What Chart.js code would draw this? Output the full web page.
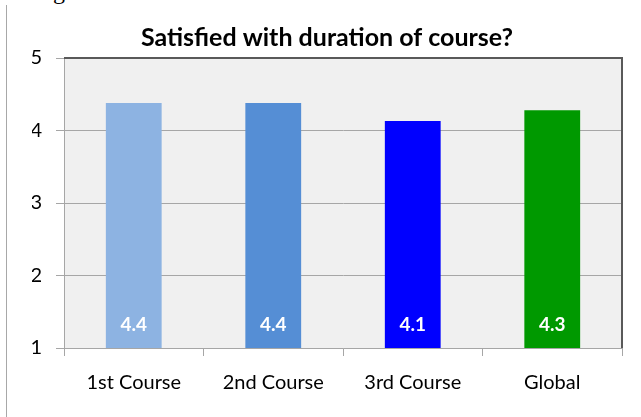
<!DOCTYPE html>
<html>
<head>
<meta charset="utf-8">
<script src="https://cdn.jsdelivr.net/npm/chart.js@4/dist/chart.umd.min.js"></script>
<style>
    body { margin: 0; background: #fff; }
    .wrap { position: relative; width: 641px; height: 417px; overflow: hidden; }
    .rule { position: absolute; left: 6px; top: 5px; bottom: 0; border-left: 1px solid #a8a8a8; }
    .cap { position: absolute; left: 33px; top: -22px; font: 24px "Liberation Serif", serif; color: #000; }
    canvas { position: absolute; left: 0; top: 0; }
</style>
</head>
<body>
<div class="wrap">
    <div class="rule"></div>
    <div class="cap">Figure</div>
    <canvas id="durationChart" width="641" height="417"></canvas>
</div>
<script>
const categories = ['1st Course', '2nd Course', '3rd Course', 'Global'];
const satisfaction = [4.38, 4.38, 4.13, 4.28];
const barColors = ['#8db3e2', '#558ed5', '#0000ff', '#009900'];
const yTicks = [1, 2, 3, 4, 5];

const font = '"Lato", "Open Sans", sans-serif';

// plot area background + dark top/right frame, then the value labels
const plotFrame = {
    id: 'plotFrame',
    beforeDraw(chart) {
        const a = chart.chartArea;
        const ctx = chart.ctx;
        ctx.save();
        ctx.fillStyle = '#f0f0f0';
        ctx.fillRect(a.left, a.top, a.right - a.left, a.bottom - a.top);
        ctx.restore();
    },
    afterDraw(chart) {
        const a = chart.chartArea;
        const ctx = chart.ctx;
        ctx.save();
        ctx.strokeStyle = '#595959';
        ctx.lineWidth = 2;
        ctx.beginPath();
        ctx.moveTo(a.left, a.top);
        ctx.lineTo(a.right, a.top);
        ctx.lineTo(a.right, a.bottom);
        ctx.stroke();

        // white value labels near the foot of each bar
        const meta = chart.getDatasetMeta(0);
        const baseY = chart.scales.y.getPixelForValue(yTicks[0]);
        ctx.fillStyle = '#ffffff';
        ctx.font = 'bold 19px ' + font;
        ctx.textAlign = 'center';
        ctx.textBaseline = 'middle';
        meta.data.forEach(function (bar, i) {
            ctx.fillText(satisfaction[i].toFixed(1), bar.x, baseY - 23);
        });
        ctx.restore();
    }
};

new Chart(document.getElementById('durationChart'), {
    type: 'bar',
    data: {
        labels: categories,
        datasets: [{
            data: satisfaction,
            backgroundColor: barColors,
            barPercentage: 0.4,
            categoryPercentage: 1
        }]
    },
    options: {
        responsive: false,
        animation: false,
        layout: { padding: { left: 32, right: 19, top: 0, bottom: 0 } },
        plugins: {
            legend: { display: false },
            tooltip: { enabled: false },
            title: {
                display: true,
                text: 'Satisfied with duration of course?',
                color: '#000',
                font: { family: font, size: 25, weight: 'bold', lineHeight: 1.2 },
                padding: { top: 23, bottom: 5 }
            }
        },
        scales: {
            x: {
                afterFit(scale) { scale.height = 69; },
                grid: { drawOnChartArea: false, tickLength: 8, color: '#a6a6a6' },
                border: { color: '#a6a6a6' },
                ticks: { color: '#000', padding: 15, font: { family: font, size: 20 } }
            },
            y: {
                min: 1,
                max: 5,
                afterFit(scale) { scale.width = 32; },
                afterBuildTicks(scale) { scale.ticks = yTicks.map(v => ({ value: v })); },
                grid: { tickLength: 8, color: '#a6a6a6' },
                border: { color: '#a6a6a6' },
                ticks: { color: '#000', padding: 14, font: { family: font, size: 20 } }
            }
        }
    },
    plugins: [plotFrame]
});
</script>
</body>
</html>
